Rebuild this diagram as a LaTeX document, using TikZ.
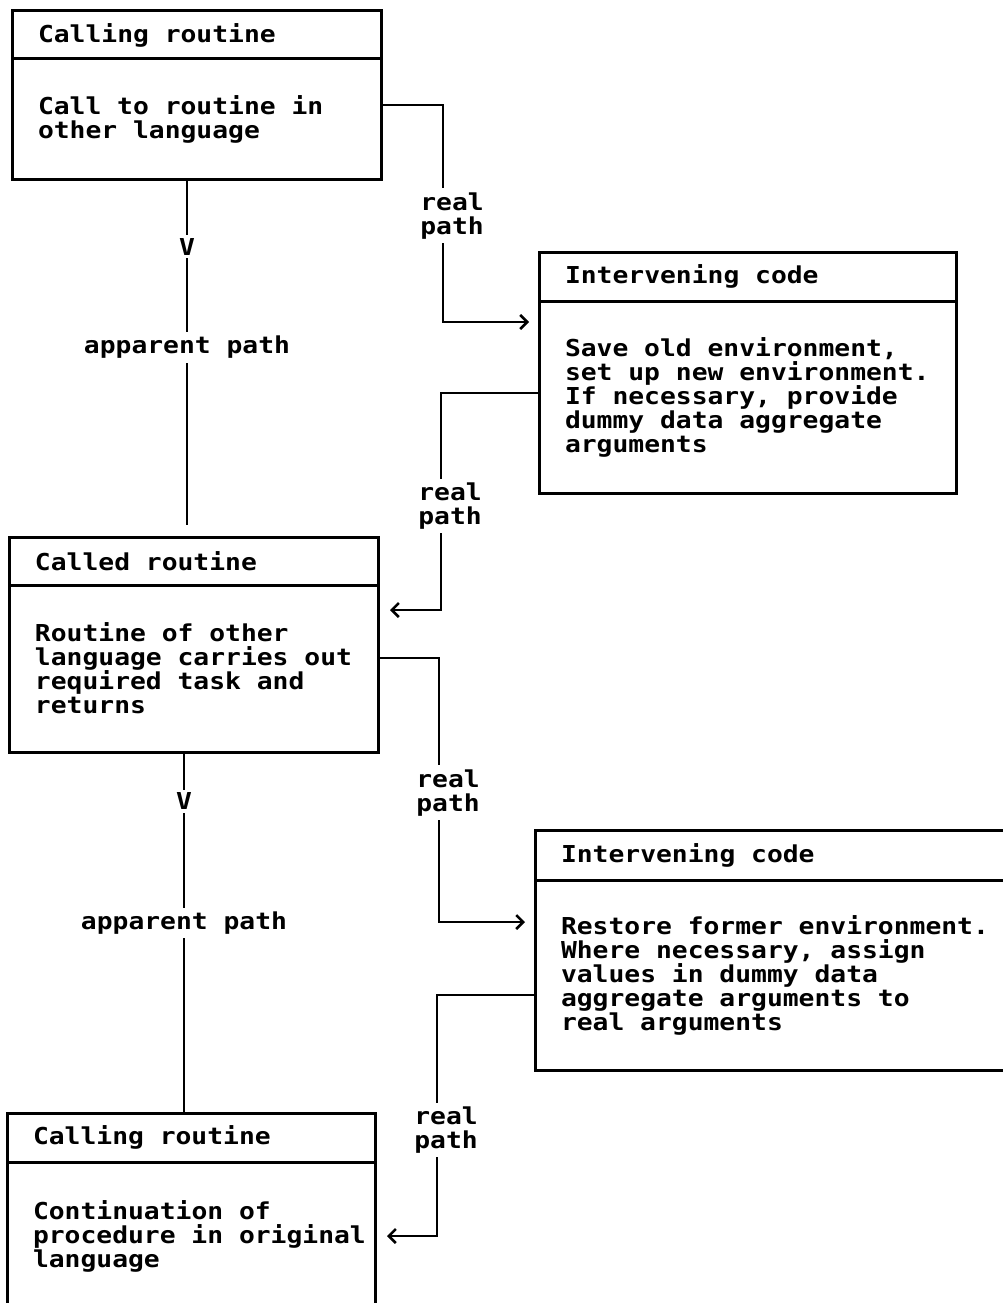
\documentclass[tikz,border=0pt]{standalone}
\usepackage{fontspec}
\usetikzlibrary{arrows.meta,positioning}
\newfontfamily\ibmmono{DejaVu Sans Mono}[FakeStretch=1.13]
\newcommand\flowfont{\ibmmono\bfseries\fontsize{23.3}{24}\selectfont
  \spaceskip=15.85pt\relax\xspaceskip=15.85pt\relax}
\tikzset{
  boxpart/.style={draw,line width=3pt,anchor=north west,outer sep=0pt,inner xsep=0pt,inner ysep=0pt,
    align=left,font=\flowfont,execute at begin node={\flowfont\leftskip=26pt\relax}},
  boxhead/.style={boxpart,minimum height=48pt},
  realpath/.style={line width=2.5pt,->},
  apppath/.style={line width=2.5pt},
  pathlabel/.style={fill=white,inner sep=4pt,align=center,font=\flowfont},
}
\begin{document}
\begin{tikzpicture}[x=1pt,y=-1pt,>={Straight Barb[length=7pt,width=14pt]}]
\fill[white] (0,0) rectangle (1003,1303);
\useasboundingbox (0,0) rectangle (1003,1303);
\clip (0,0) rectangle (1003,1303);

\node[boxhead,text width=369pt] (h1) at (12,11) {Calling routine};
\node[boxpart,text width=369pt,minimum height=120pt,below=0pt of h1] (b1) {Call to routine in\\other language};

\node[boxhead,text width=417pt,minimum height=49pt] (h2) at (539,252) {Intervening code};
\node[boxpart,text width=417pt,minimum height=192pt,below=0pt of h2] (b2) {Save old environment,\\set up new environment.\\If necessary, provide\\dummy data aggregate\\arguments};

\node[boxhead,text width=369pt] (h3) at (9,537) {Called routine};
\node[boxpart,text width=369pt,minimum height=167pt,below=0pt of h3] (b3) {Routine of other\\language carries out\\required task and\\returns};

\node[boxhead,text width=490pt,minimum height=50pt] (h4) at (535,830) {Intervening code};
\node[boxpart,text width=490pt,minimum height=190pt,below=0pt of h4] (b4) {Restore former environment.\\Where necessary, assign\\values in dummy data\\aggregate arguments to\\real arguments};

\node[boxhead,text width=368pt,minimum height=49pt] (h5) at (7,1113) {Calling routine};
\node[boxpart,text width=368pt,minimum height=148pt,below=0pt of h5] (b5) {Continuation of\\procedure in original\\language};

\draw[realpath,shorten >=10pt] (b1.east |- 0,105) -- (443,105)
  -- node[pathlabel,pos=.51,xshift=9pt] {real\\path} (443,322) -- (b2.west |- 0,322);
\draw[realpath,shorten >=12pt] (b2.west |- 0,393) -- (441,393)
  -- node[pathlabel,pos=.52,xshift=9pt] {real\\path} (441,610) -- (b3.east |- 0,610);
\draw[realpath,shorten >=10pt] (b3.east |- 0,658) -- (439,658)
  -- node[pathlabel,pos=.51,xshift=9pt] {real\\path} (439,922) -- (b4.west |- 0,922);
\draw[realpath,shorten >=12pt] (b4.west |- 0,995) -- (437,995)
  -- node[pathlabel,pos=.56,xshift=9pt] {real\\path} (437,1236) -- (b5.east |- 0,1236);

\coordinate (end1) at (187,525);
\draw[apppath] (b1.south -| end1) -- node[pathlabel,inner sep=3pt,pos=.196] {V}
  node[pathlabel,pos=.487] {apparent path} (end1);
\draw[apppath] (b3.south -| 184,0) -- node[pathlabel,inner sep=3pt,pos=.136] {V}
  node[pathlabel,pos=.474] {apparent path} (h5.north -| 184,0);
\end{tikzpicture}
\end{document}
